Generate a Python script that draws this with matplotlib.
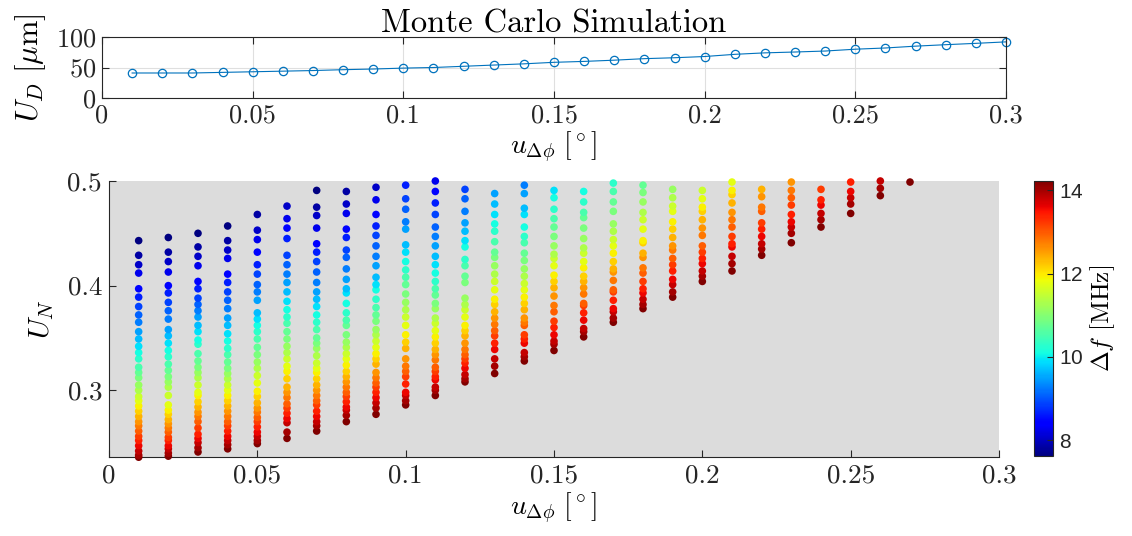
import matplotlib
matplotlib.use('Agg')
import matplotlib.pyplot as plt
import numpy as np

plt.rcParams['font.family'] = 'serif'
plt.rcParams['font.serif'] = ['cmr10']
plt.rcParams['mathtext.fontset'] = 'cm'
plt.rcParams['axes.formatter.use_mathtext'] = True

# top panel: U_D vs u_dphi
u_dphi = [0.01, 0.02, 0.03, 0.04, 0.05, 0.06, 0.07, 0.08, 0.09, 0.10,
          0.11, 0.12, 0.13, 0.14, 0.15, 0.16, 0.17, 0.18, 0.19, 0.20,
          0.21, 0.22, 0.23, 0.24, 0.25, 0.26, 0.27, 0.28, 0.29, 0.30]
u_d = [41, 41, 41, 42, 43, 44, 45, 46.4, 47.5, 49,
       50, 52, 54, 56, 58.5, 60, 62, 64.5, 66, 68,
       71.6, 74, 75.4, 77, 80, 82, 85, 87.4, 89.6, 92]

# bottom panel: per column U_N values (bottom -> top), only points inside the axes
col_x = [0.01, 0.02, 0.03, 0.04, 0.05, 0.06, 0.07, 0.08, 0.09, 0.10,
         0.11, 0.12, 0.13, 0.14, 0.15, 0.16, 0.17, 0.18, 0.19, 0.20,
         0.21, 0.22, 0.23, 0.24, 0.25, 0.26, 0.27]
u_n_cols = [
    [0.236, 0.238, 0.242, 0.247, 0.252, 0.256, 0.261, 0.266, 0.270, 0.275, 0.280, 0.285, 0.290, 0.294, 0.300, 0.305, 0.312,
     0.317, 0.322, 0.330, 0.336, 0.342, 0.349, 0.356, 0.365, 0.372, 0.380, 0.389, 0.397, 0.412, 0.420, 0.429, 0.443],
    [0.237, 0.240, 0.244, 0.247, 0.252, 0.255, 0.260, 0.264, 0.268, 0.272, 0.277, 0.281, 0.286, 0.295, 0.303, 0.308, 0.313,
     0.319, 0.325, 0.332, 0.338, 0.345, 0.352, 0.358, 0.368, 0.376, 0.384, 0.393, 0.400, 0.413, 0.423, 0.432, 0.446],
    [0.241, 0.245, 0.250, 0.254, 0.258, 0.264, 0.270, 0.275, 0.279, 0.284, 0.289, 0.295, 0.298, 0.305, 0.312, 0.317, 0.322,
     0.328, 0.335, 0.344, 0.348, 0.356, 0.362, 0.370, 0.376, 0.382, 0.388, 0.397, 0.404, 0.419, 0.428, 0.437, 0.450],
    [0.244, 0.248, 0.252, 0.256, 0.261, 0.266, 0.270, 0.275, 0.280, 0.285, 0.290, 0.295, 0.300, 0.305, 0.311, 0.316, 0.321,
     0.327, 0.334, 0.340, 0.347, 0.354, 0.362, 0.369, 0.378, 0.386, 0.394, 0.403, 0.411, 0.426, 0.434, 0.443, 0.457],
    [0.249, 0.252, 0.256, 0.260, 0.265, 0.270, 0.274, 0.279, 0.283, 0.288, 0.294, 0.299, 0.307, 0.314, 0.321, 0.327, 0.334,
     0.341, 0.349, 0.356, 0.362, 0.368, 0.374, 0.386, 0.394, 0.401, 0.411, 0.420, 0.432, 0.444, 0.453, 0.468],
    [0.254, 0.260, 0.269, 0.273, 0.278, 0.283, 0.287, 0.293, 0.298, 0.303, 0.311, 0.318, 0.323, 0.330, 0.336, 0.342, 0.349,
     0.356, 0.364, 0.370, 0.377, 0.385, 0.394, 0.403, 0.411, 0.420, 0.429, 0.445, 0.455, 0.464, 0.476],
    [0.261, 0.266, 0.270, 0.275, 0.280, 0.286, 0.290, 0.295, 0.300, 0.305, 0.311, 0.317, 0.321, 0.326, 0.333, 0.340, 0.345,
     0.350, 0.358, 0.365, 0.372, 0.380, 0.387, 0.394, 0.403, 0.413, 0.423, 0.432, 0.440, 0.455, 0.467, 0.475, 0.491],
    [0.270, 0.276, 0.281, 0.284, 0.289, 0.294, 0.298, 0.303, 0.308, 0.313, 0.318, 0.324, 0.330, 0.335, 0.341, 0.346, 0.353,
     0.362, 0.367, 0.374, 0.383, 0.393, 0.397, 0.406, 0.416, 0.427, 0.434, 0.446, 0.454, 0.469, 0.478, 0.490],
    [0.277, 0.283, 0.288, 0.293, 0.298, 0.303, 0.307, 0.312, 0.317, 0.325, 0.330, 0.335, 0.341, 0.347, 0.353, 0.358, 0.366,
     0.372, 0.379, 0.387, 0.396, 0.401, 0.408, 0.419, 0.428, 0.438, 0.448, 0.457, 0.468, 0.482, 0.494],
    [0.286, 0.290, 0.295, 0.298, 0.306, 0.313, 0.318, 0.323, 0.330, 0.340, 0.346, 0.353, 0.362, 0.370, 0.377, 0.384, 0.392,
     0.401, 0.408, 0.415, 0.423, 0.432, 0.439, 0.454, 0.461, 0.473, 0.483, 0.496],
    [0.295, 0.300, 0.303, 0.310, 0.313, 0.318, 0.322, 0.329, 0.334, 0.339, 0.345, 0.351, 0.357, 0.364, 0.369, 0.378, 0.383,
     0.391, 0.397, 0.404, 0.412, 0.420, 0.428, 0.438, 0.447, 0.456, 0.468, 0.479, 0.490, 0.500],
    [0.308, 0.311, 0.315, 0.321, 0.326, 0.330, 0.334, 0.339, 0.345, 0.352, 0.357, 0.362, 0.370, 0.377, 0.382, 0.388, 0.403,
     0.409, 0.419, 0.425, 0.437, 0.443, 0.452, 0.460, 0.471, 0.483, 0.492],
    [0.316, 0.323, 0.330, 0.339, 0.345, 0.352, 0.357, 0.363, 0.369, 0.375, 0.382, 0.387, 0.396, 0.404, 0.411, 0.419, 0.427,
     0.432, 0.442, 0.452, 0.459, 0.468, 0.478, 0.488],
    [0.328, 0.332, 0.336, 0.345, 0.349, 0.353, 0.362, 0.365, 0.369, 0.377, 0.383, 0.389, 0.396, 0.402, 0.409, 0.416, 0.424,
     0.431, 0.441, 0.447, 0.456, 0.468, 0.474, 0.488, 0.496],
    [0.338, 0.344, 0.347, 0.353, 0.360, 0.366, 0.375, 0.381, 0.390, 0.398, 0.404, 0.410, 0.419, 0.426, 0.430, 0.438, 0.447,
     0.456, 0.464, 0.473, 0.484, 0.491],
    [0.351, 0.356, 0.359, 0.367, 0.374, 0.381, 0.383, 0.392, 0.398, 0.404, 0.409, 0.417, 0.423, 0.431, 0.436, 0.445, 0.455,
     0.465, 0.470, 0.480, 0.490],
    [0.365, 0.369, 0.375, 0.378, 0.386, 0.394, 0.396, 0.405, 0.413, 0.416, 0.423, 0.431, 0.438, 0.444, 0.452, 0.459, 0.471,
     0.480, 0.490, 0.498],
    [0.378, 0.382, 0.387, 0.393, 0.397, 0.404, 0.412, 0.417, 0.427, 0.431, 0.441, 0.443, 0.454, 0.463, 0.470, 0.480, 0.489,
     0.496],
    [0.389, 0.394, 0.401, 0.406, 0.414, 0.420, 0.426, 0.434, 0.438, 0.446, 0.454, 0.461, 0.471, 0.476, 0.484, 0.492],
    [0.404, 0.409, 0.414, 0.421, 0.426, 0.432, 0.438, 0.448, 0.455, 0.463, 0.471, 0.475, 0.483, 0.491],
    [0.414, 0.421, 0.428, 0.437, 0.440, 0.447, 0.456, 0.463, 0.470, 0.479, 0.487, 0.491, 0.499],
    [0.429, 0.435, 0.440, 0.447, 0.454, 0.460, 0.471, 0.475, 0.485, 0.492],
    [0.441, 0.450, 0.456, 0.461, 0.468, 0.477, 0.484, 0.491, 0.499],
    [0.456, 0.463, 0.469, 0.477, 0.482, 0.492],
    [0.469, 0.478, 0.484, 0.490, 0.499],
    [0.486, 0.493, 0.500],
    [0.499],
]
# delta f [MHz] of each point, bottom point of a column first
delta_f = [14.22, 14.01, 13.81, 13.60, 13.40, 13.19, 12.98, 12.78, 12.57, 12.37, 12.16,
           11.95, 11.75, 11.54, 11.33, 11.13, 10.92, 10.72, 10.51, 10.30, 10.10, 9.89,
           9.68, 9.48, 9.27, 9.07, 8.86, 8.65, 8.45, 8.24, 8.04, 7.83, 7.62]

W, H = 1132, 536
fig = plt.figure(figsize=(W / 100, H / 100), dpi=100)
dark = '#262626'
ticks_x = [0, 0.05, 0.1, 0.15, 0.2, 0.25, 0.3]
labels_x = ['0', '0.05', '0.1', '0.15', '0.2', '0.25', '0.3']

# ---- top panel
ax1 = fig.add_axes([102 / W, 1 - 98 / H, 904 / W, 61 / H])
ax1.plot(u_dphi, u_d, '-o', color='#0072BD', lw=0.8, ms=6, mfc='none', mew=0.9, clip_on=False)
ax1.set_xlim(0, 0.3)
ax1.set_ylim(0, 100)
ax1.set_xticks(ticks_x)
ax1.set_xticklabels(labels_x)
ax1.set_yticks([0, 50, 100])
ax1.grid(True, color='#dfdfdf', lw=0.8)
ax1.tick_params(direction='in', top=True, right=True, labelsize=19, colors=dark, length=5, pad=4)
for s in ax1.spines.values():
    s.set_color(dark)
ax1.set_xlabel(r'$u_{\Delta\phi}\ [^\circ]$', fontsize=20, labelpad=2)
ax1.set_ylabel(r'$U_D\ [\mu\mathrm{m}]$', fontsize=22, labelpad=6)
ax1.set_title('Monte Carlo Simulation', fontsize=23.5, pad=3)

# ---- bottom panel
xs, ys, cs = [], [], []
for x, col in zip(col_x, u_n_cols):
    xs += [x] * len(col)
    ys += col
    cs += delta_f[:len(col)]

ax2 = fig.add_axes([109 / W, 1 - 457 / H, 890 / W, 276 / H])
ax2.set_facecolor('#dcdcdc')
sc = ax2.scatter(xs, ys, c=cs, cmap='jet', vmin=7.62, vmax=14.22, s=30,
                 edgecolors='none', clip_on=False, zorder=3)
ax2.set_xlim(0, 0.3)
ax2.set_ylim(0.2362, 0.5)
ax2.set_xticks(ticks_x)
ax2.set_xticklabels(labels_x)
ax2.set_yticks([0.3, 0.4, 0.5])
ax2.set_yticklabels(['0.3', '0.4', '0.5'])
ax2.spines['top'].set_visible(False)
ax2.spines['right'].set_visible(False)
for s in ax2.spines.values():
    s.set_color(dark)
ax2.tick_params(direction='in', labelsize=19.5, colors=dark, length=5, pad=5)
ax2.set_xlabel(r'$u_{\Delta\phi}\ [^\circ]$', fontsize=20, labelpad=2)
ax2.set_ylabel(r'$U_N$', fontsize=21, labelpad=8)

# ---- colorbar
cax = fig.add_axes([1034 / W, 1 - 456 / H, 19 / W, 275 / H])
cb = fig.colorbar(sc, cax=cax, ticks=[8, 10, 12, 14])
cb.outline.set_edgecolor(dark)
cb.ax.tick_params(direction='in', length=4, colors=dark, labelsize=15, pad=4)
for t in cb.ax.get_yticklabels():
    t.set_fontfamily('Liberation Sans')
cb.set_label(r'$\Delta f$ [MHz]', fontsize=18, labelpad=4)

fig.savefig('out.png', dpi=100)
